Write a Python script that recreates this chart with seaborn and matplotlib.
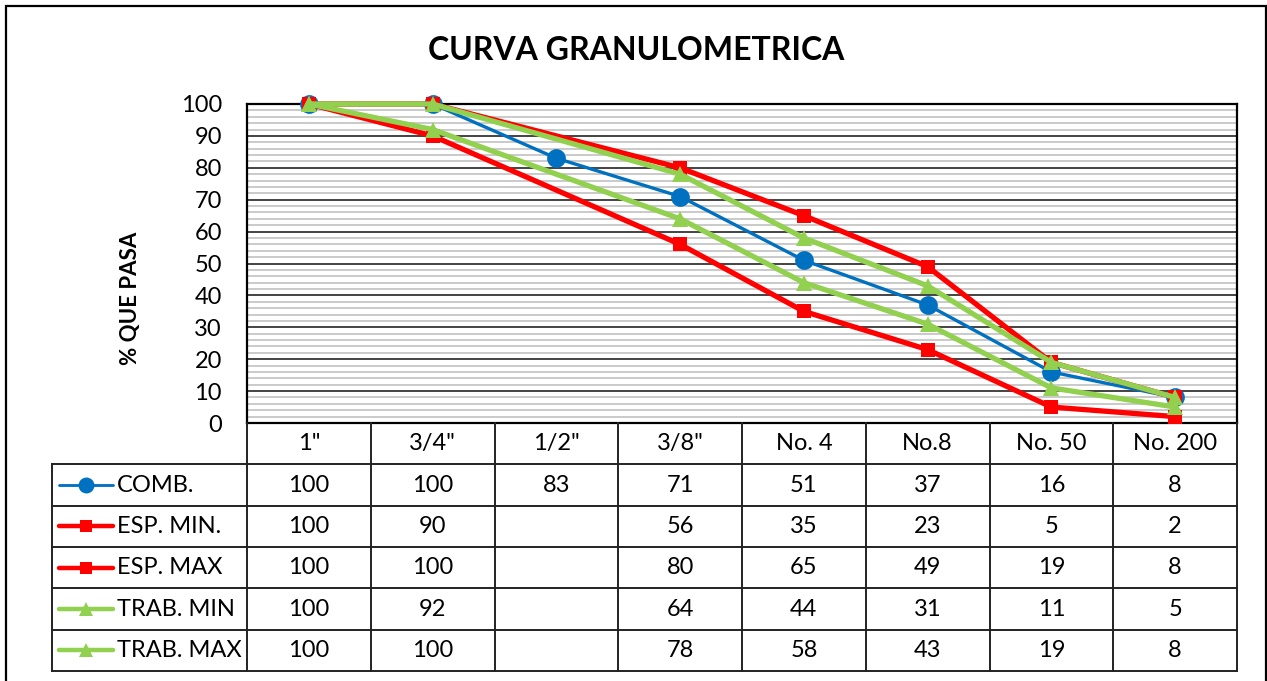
import numpy as np
import pandas as pd
import matplotlib
matplotlib.use("Agg")
import matplotlib.pyplot as plt
import seaborn as sns
from matplotlib.patches import Rectangle

# ---------------- data ----------------
sieves = ['1"', '3/4"', '1/2"', '3/8"', 'No. 4', 'No.8', 'No. 50', 'No. 200']
comb = [100, 100, 83, 71, 51, 37, 16, 8]
esp_min = [100, 90, np.nan, 56, 35, 23, 5, 2]
esp_max = [100, 100, np.nan, 80, 65, 49, 19, 8]
trab_min = [100, 92, np.nan, 64, 44, 31, 11, 5]
trab_max = [100, 100, np.nan, 78, 58, 43, 19, 8]
series_names = ['COMB.', 'ESP. MIN.', 'ESP. MAX', 'TRAB. MIN', 'TRAB. MAX']
series_values = [comb, esp_min, esp_max, trab_min, trab_max]
y_ticks = list(range(0, 101, 10))
title = 'CURVA GRANULOMETRICA'
y_label = '% QUE PASA'

# ---------------- styles ----------------
BLUE, RED, GREEN = '#0070C0', '#FF0000', '#92D050'
styles = [
    dict(color=BLUE, marker='o', ms=13.5, lw=2.4),
    dict(color=RED, marker='s', ms=10.5, lw=3.8),
    dict(color=RED, marker='s', ms=10.5, lw=3.8),
    dict(color=GREEN, marker='^', ms=11.5, lw=3.8),
    dict(color=GREEN, marker='^', ms=11.5, lw=3.8),
]

sns.set_theme(style='white')
plt.rcParams['font.family'] = ['Lato', 'DejaVu Sans']
FS = 17

W, H = 1267, 681
fig = plt.figure(figsize=(W / 100, H / 100), dpi=100)
fig.patch.set_facecolor('white')

# plot area
px_left, px_right, px_top, px_bottom = 247, 1237, 104, 423
ax = fig.add_axes([px_left / W, 1 - px_bottom / H, (px_right - px_left) / W, (px_bottom - px_top) / H])

n = len(sieves)
for i, (name, vals) in enumerate(zip(series_names, series_values)):
    st = styles[i]
    df = pd.DataFrame({'x': np.arange(n), 'y': vals}).dropna()
    sns.lineplot(data=df, x='x', y='y', ax=ax, color=st['color'], marker=st['marker'],
                 markersize=st['ms'], linewidth=st['lw'], markeredgewidth=0,
                 clip_on=False, zorder=3 + i, sort=False)

ax.set_xlim(-0.5, n - 0.5)
ax.set_ylim(0, 100)
ax.set_xticks([])
ax.set_yticks(y_ticks)
ax.set_yticks(np.arange(0, 101, 2), minor=True)
ax.set_yticklabels([str(v) for v in y_ticks], fontsize=FS, color='black')
ax.tick_params(axis='y', which='both', length=0, pad=18)
ax.grid(which='minor', axis='y', color='#c6c6c6', lw=1.3)
ax.grid(which='major', axis='y', color='#111111', lw=1.1)
ax.set_axisbelow(True)
ax.set_xlabel('')
ax.set_ylabel('')
for sp in ax.spines.values():
    sp.set_visible(True)
    sp.set_color('black')
    sp.set_linewidth(1.6)

# ---------------- data table ----------------
col_w = (px_right - px_left) / n
tab_left, tab_bottom = 52, 671
legend_w = (px_left - tab_left) / col_w
ax_t = fig.add_axes([tab_left / W, 1 - tab_bottom / H, (px_right - tab_left) / W, (tab_bottom - px_bottom) / H])
xmin0 = -0.5 - legend_w
ax_t.set_xlim(xmin0, n - 0.5)
nrows = len(series_names) + 1
ax_t.set_ylim(nrows, 0)
ax_t.axis('off')

lc, lwid = '#222222', 1.4
for r in range(1, nrows + 1):
    ax_t.plot([xmin0, n - 0.5], [r, r], color=lc, lw=lwid, clip_on=False, solid_capstyle='projecting')
for k in range(n + 1):
    ax_t.plot([-0.5 + k, -0.5 + k], [0, nrows], color=lc, lw=lwid, clip_on=False, solid_capstyle='projecting')
ax_t.plot([xmin0, xmin0], [1, nrows], color=lc, lw=lwid, clip_on=False, solid_capstyle='projecting')

for k, s in enumerate(sieves):
    ax_t.text(k, 0.5, s, ha='center', va='center', fontsize=FS, color='black')

def px2x(px):
    return -0.5 + (px - px_left) / col_w

for i, (name, vals) in enumerate(zip(series_names, series_values)):
    st = styles[i]
    yc = i + 1.5
    ax_t.plot([px2x(59), px2x(113)], [yc, yc], color=st['color'], lw=st['lw'] * 0.85,
              solid_capstyle='round', clip_on=False)
    ax_t.plot([px2x(86)], [yc], color=st['color'], marker=st['marker'],
              markersize=st['ms'] * 0.85, markeredgewidth=0, clip_on=False)
    ax_t.text(px2x(117), yc, name, ha='left', va='center', fontsize=FS, color='black')
    for k, v in enumerate(vals):
        if not np.isnan(v):
            ax_t.text(k, yc, f'{v:.0f}', ha='center', va='center', fontsize=FS, color='black')

# ---------------- texts & frame ----------------
fig.text(636 / W, 1 - 50 / H, title, ha='center', va='center', fontsize=23,
         fontweight='bold', color='black')
fig.text(130 / W, 1 - 298 / H, y_label, ha='center', va='center', rotation=90,
         fontsize=16, fontweight='bold', color='black')

fig.add_artist(Rectangle((6 / W, -0.05), (1266 - 6) / W, 1 - 6 / H + 0.05,
                         transform=fig.transFigure, fill=False, ec='black', lw=1.6))

fig.savefig('out.png', dpi=100)
